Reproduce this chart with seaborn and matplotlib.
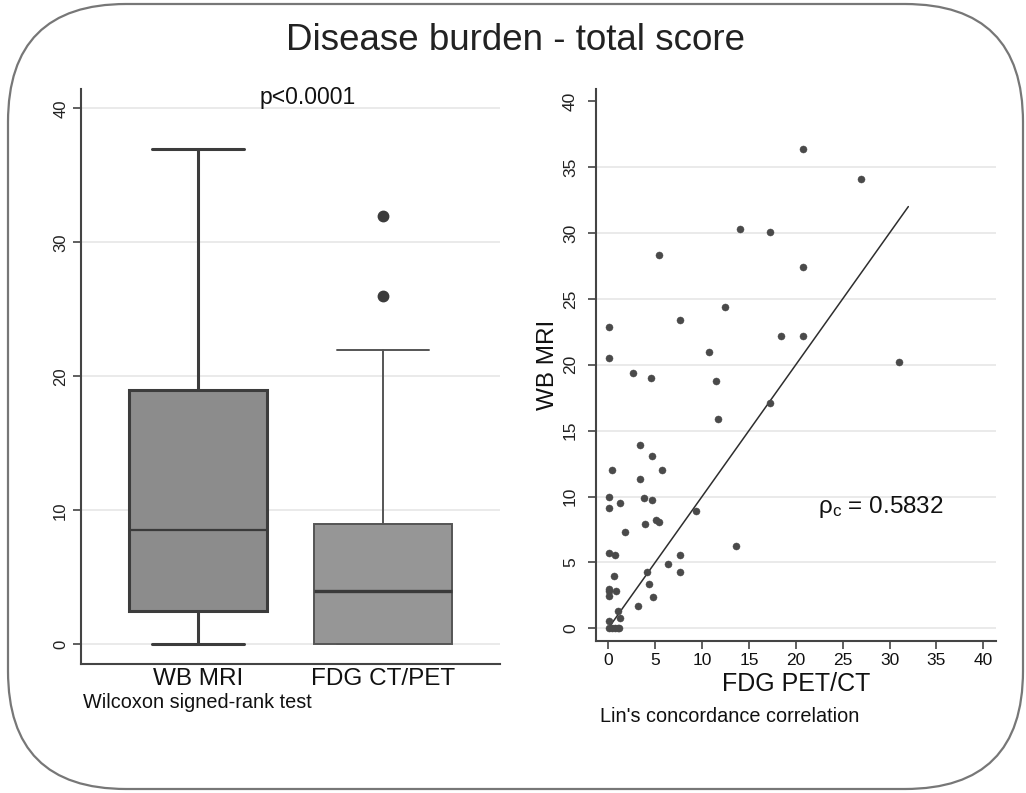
import matplotlib
matplotlib.use("Agg")
import matplotlib.pyplot as plt
import seaborn as sns
import pandas as pd
from matplotlib.patches import FancyBboxPatch

# ---------------- data ----------------
title = "Disease burden - total score"
box_categories = ["WB MRI", "FDG CT/PET"]
box_whislo = [0, 0]
box_q1 = [2.5, 0]
box_med = [8.5, 4]
box_q3 = [19, 9]
box_whishi = [37, 22]
box_fliers = [[], [26, 32]]
box_ticks = [0, 10, 20, 30, 40]
p_text = "p<0.0001"
box_caption = "Wilcoxon signed-rank test"

fdg_pet = [20.8, 26.9, 14.0, 17.2, 5.4, 20.8, 12.4, 7.7, 0.1, 18.4, 20.8, 0.1, 10.7,
           31.0, 2.6, 4.6, 11.5, 17.2, 11.7, 3.4, 4.7, 0.35, 5.7, 3.4, 0.1, 3.8, 4.7,
           0.1, 1.3, 9.4, 5.1, 5.4, 3.9, 1.8, 13.6, 0.1, 0.7, 7.6, 6.4, 0.6, 4.15, 7.6,
           4.3, 0.1, 0.1, 0.1, 0.85, 4.75, 3.2, 1.0, 1.2, 0.1, 0.1, 0.4, 0.7, 1.0, 1.1]
wb_mri = [36.4, 34.1, 30.3, 30.1, 28.3, 27.4, 24.4, 23.4, 22.9, 22.2, 22.2, 20.5, 21.0,
          20.2, 19.4, 19.0, 18.8, 17.1, 15.9, 13.9, 13.1, 12.0, 12.0, 11.3, 10.0, 9.9, 9.7,
          9.1, 9.5, 8.9, 8.2, 8.1, 7.9, 7.3, 6.25, 5.7, 5.6, 5.6, 4.9, 4.0, 4.25, 4.3,
          3.4, 3.0, 2.8, 2.45, 2.8, 2.4, 1.7, 1.3, 0.8, 0.55, 0.0, 0.0, 0.0, 0.0, 0.0]
concord_line_x = [0, 32]
concord_line_y = [0, 32]
scatter_xticks = [0, 5, 10, 15, 20, 25, 30, 35, 40]
scatter_yticks = [0, 5, 10, 15, 20, 25, 30, 35, 40]
scatter_grid = [0, 5, 10, 15, 20, 25, 30, 35]
rho_text = r"ρ$_{\mathrm{c}}$ = 0.5832"
scatter_xlabel = "FDG PET/CT"
scatter_ylabel = "WB MRI"
scatter_caption = "Lin's concordance correlation"

# ---------------- style ----------------
sns.set_theme(style="white")
plt.rcParams["font.family"] = ["Liberation Sans", "DejaVu Sans"]
plt.rcParams["mathtext.fontset"] = "custom"
plt.rcParams["mathtext.rm"] = "Liberation Sans"
plt.rcParams["mathtext.it"] = "Liberation Sans:italic"

W, H = 1026, 793
fig = plt.figure(figsize=(W / 100, H / 100), dpi=100)
fig.patch.set_facecolor("white")

AX_COL = "#444444"
GRID_COL = "#eaeaea"

# rounded frame
frame = FancyBboxPatch((8, 4), 1015, 785, boxstyle="round,pad=0,rounding_size=118",
                       transform=None, fill=False, edgecolor="#777777", linewidth=1.6)
fig.patches.append(frame)

fig.text(515 / W, 1 - 41 / H, title, ha="center", va="center", fontsize=26.5, color="#222222")

# ---------------- left: box plot ----------------
ax1 = fig.add_axes([80.7 / W, 1 - 664 / H, (500 - 80.7) / W, (664 - 89.3) / H])
ax1.set_xlim(-0.634, 1.632)
ax1.set_ylim(-1.47, 41.42)
for y in box_ticks:
    ax1.axhline(y, color=GRID_COL, lw=1.4, zorder=0)

styles = [
    dict(edge="#3c3c3c", face="#8c8c8c", lw=2.2, medlw=1.6, whlw=2.2),
    dict(edge="#555555", face="#969696", lw=1.4, medlw=2.4, whlw=1.4),
]
for i, cat in enumerate(box_categories):
    st = styles[i]
    stats = [dict(label=cat, whislo=box_whislo[i], q1=box_q1[i], med=box_med[i],
                  q3=box_q3[i], whishi=box_whishi[i], fliers=box_fliers[i])]
    ax1.bxp(stats, positions=[i], widths=0.746, patch_artist=True, capwidths=[0.5],
            boxprops=dict(facecolor=st["face"], edgecolor=st["edge"], linewidth=st["lw"]),
            medianprops=dict(color="#3a3a3a", linewidth=st["medlw"]),
            whiskerprops=dict(color=st["edge"], linewidth=st["whlw"]),
            capprops=dict(color=st["edge"], linewidth=st["whlw"]),
            flierprops=dict(marker="o", markerfacecolor="#3c3c3c", markeredgecolor="#3c3c3c",
                            markersize=7.5),
            manage_ticks=False, zorder=3)

ax1.set_xticks(range(len(box_categories)))
ax1.set_xticklabels(box_categories, fontsize=17.5, color="#111111")
ax1.set_yticks(box_ticks)
ax1.set_yticklabels([str(t) for t in box_ticks], rotation=90, va="center", fontsize=12,
                    color="#222222")
ax1.tick_params(axis="x", length=0, pad=3)
ax1.tick_params(axis="y", length=6, width=1.2, color=AX_COL, pad=3, left=True)
for s in ["top", "right"]:
    ax1.spines[s].set_visible(False)
for s in ["left", "bottom"]:
    ax1.spines[s].set_color(AX_COL)
    ax1.spines[s].set_linewidth(1.5)
ax1.text(0.59, 40.8, p_text, ha="center", va="center", fontsize=16.5, color="#111111")
fig.text(83 / W, 1 - 703 / H, box_caption, ha="left", va="center", fontsize=14.3, color="#111111")

# ---------------- right: scatter ----------------
ax2 = fig.add_axes([596 / W, 1 - 640.7 / H, (996 - 596) / W, (640.7 - 89.3) / H])
ax2.set_xlim(-1.31, 41.35)
ax2.set_ylim(-0.94, 40.9)
for y in scatter_grid:
    ax2.axhline(y, color=GRID_COL, lw=1.4, zorder=0)

df = pd.DataFrame({"FDG": fdg_pet, "WB": wb_mri})
sns.scatterplot(data=df, x="FDG", y="WB", ax=ax2, color="#4a4a4a", s=26,
                edgecolor="#4a4a4a", linewidth=0.3, zorder=3)
sns.lineplot(x=concord_line_x, y=concord_line_y, ax=ax2, color="#2e2e2e", lw=1.1, zorder=2)

ax2.set_xticks(scatter_xticks)
ax2.set_xticklabels([str(t) for t in scatter_xticks], fontsize=12.5, color="#111111")
ax2.set_yticks(scatter_yticks)
ax2.set_yticklabels([str(t) for t in scatter_yticks], rotation=90, va="center", fontsize=12.5,
                    color="#222222")
ax2.tick_params(axis="x", length=6, width=1.2, color=AX_COL, pad=3, bottom=True)
ax2.tick_params(axis="y", length=6, width=1.2, color=AX_COL, pad=7, left=True)
for s in ["top", "right"]:
    ax2.spines[s].set_visible(False)
for s in ["left", "bottom"]:
    ax2.spines[s].set_color(AX_COL)
    ax2.spines[s].set_linewidth(1.5)
ax2.set_xlabel(scatter_xlabel, fontsize=18, color="#111111", labelpad=3)
ax2.set_ylabel(scatter_ylabel, fontsize=17.5, color="#111111", labelpad=3)
ax2.text(22.4, 9.2, rho_text, ha="left", va="center", fontsize=17.5, color="#111111")
fig.text(600 / W, 1 - 716 / H, scatter_caption, ha="left", va="center", fontsize=14.3,
         color="#111111")

fig.savefig("out.png", dpi=100, facecolor="white")
